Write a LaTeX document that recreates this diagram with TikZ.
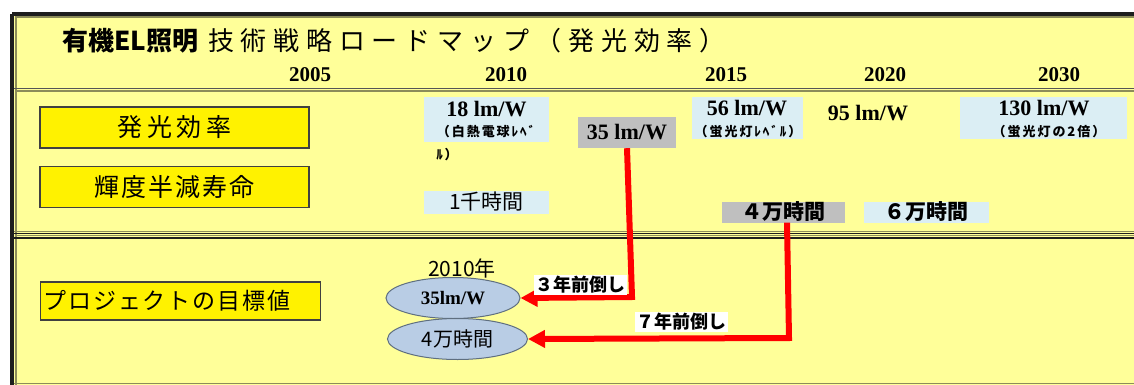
\documentclass[tikz,border=0pt]{standalone}
\usepackage{fontspec}
\setmainfont{Noto Sans CJK JP}
\newfontfamily\jp{Noto Sans CJK JP}
\newfontfamily\jpA[LetterSpace=26]{Noto Sans CJK JP}
\newfontfamily\jpB[LetterSpace=18]{Noto Sans CJK JP}
\newfontfamily\jpC[LetterSpace=8]{Noto Sans CJK JP}
\newfontfamily\jpS[LetterSpace=15]{Noto Sans CJK JP}
\newfontfamily\ser{Liberation Serif}
\usetikzlibrary{arrows.meta,shapes.geometric}
\definecolor{panefill}{HTML}{FFFF99}
\definecolor{olive}{HTML}{8C8C5A}
\definecolor{darkline}{HTML}{1E1E1E}
\definecolor{lblue}{HTML}{DBEEF4}
\definecolor{gbox}{HTML}{BFBFBF}
\definecolor{ellfill}{HTML}{B9CDE5}
\definecolor{ellline}{HTML}{5F6F80}
\tikzset{
  yearlbl/.style={font=\ser\bfseries\fontsize{21}{24}\selectfont, inner sep=0},
  catbox/.style={draw=darkline!85, line width=1.2pt, fill=yellow, minimum width=269pt, minimum height=41pt, inner sep=0},
  graybox/.style={fill=gbox, inner sep=0},
  vallbl/.style={font=\ser\bfseries\fontsize{22}{24}\selectfont, inner sep=0},
  smalllbl/.style={font=\jpS\bfseries\fontsize{13}{15}\selectfont, inner sep=0},
  goal/.style={ellipse, draw=ellline, line width=1pt, fill=ellfill, inner sep=0},
  redarrow/.style={draw=red, line width=6pt, line join=miter, -{Triangle[length=17pt,width=17pt]}},
  shiftlbl/.style={fill=white, inner sep=1.5pt, font=\jp\bfseries\fontsize{18}{20}\selectfont}
}
\begin{document}
\begin{tikzpicture}[x=1pt,y=-1pt]
\useasboundingbox (0,0) rectangle (1134,385);
% panels
\fill[panefill] (13,15) rectangle (1134,385);
% outer frame
\draw[darkline, line width=3.5pt, rounded corners=2pt] (12,14) -- (1140,14);
\draw[darkline, line width=3.5pt] (12,395) -- (12,14);
\draw[olive, line width=1.5pt] (16,385) -- (16,17) -- (1134,17);
% separators
\draw[darkline!75, line width=1.8pt] (14,88.5) -- (1134,88.5);
\draw[olive, line width=1.5pt] (16,91) -- (1134,91);
\draw[olive, line width=1.5pt] (14,231.5) -- (1134,231.5);
\draw[darkline, line width=1.5pt] (14,233.5) -- (1134,233.5);
\draw[olive, line width=1.5pt] (16,235.5) -- (1134,235.5);
\draw[darkline, line width=2pt] (14,237.8) -- (1134,237.8);
\draw[olive, line width=1.5pt] (14,383.5) -- (1134,383.5);
% title
\node[anchor=west, inner sep=0, font=\jp\bfseries\fontsize{26}{30}\selectfont] (t1) at (62,41) {有機EL照明};
\node[anchor=west, inner sep=0, font=\jpA\fontsize{26}{30}\selectfont] (t2) at (208,41) {技術戦略ロードマップ（発光効率）};
% years
\node[yearlbl] (y2005) at (310,75) {2005};
\node[yearlbl] (y2010) at (506,75) {2010};
\node[yearlbl] (y2015) at (726,75) {2015};
\node[yearlbl] (y2020) at (885,75) {2020};
\node[yearlbl] (y2030) at (1059,75) {2030};
% category boxes
\node[catbox, font=\jpB\fontsize{25}{28}\selectfont] (c1) at (174.5,127.5) {発光効率};
\node[catbox, font=\jpC\fontsize{25}{28}\selectfont] (c2) at (174.5,187) {輝度半減寿命};
\node[catbox, minimum width=280pt, minimum height=38pt, anchor=west, font=\jpC\fontsize{23}{26}\selectfont, text width=274pt, align=left] (c3) at (40,301) {プロジェクトの目標値};
% efficiency values
\fill[lblue] (424,97) rectangle (549,142);
\node[vallbl] (v18) at (486.5,109) {18 lm/W};
\node[smalllbl] (v18a) at (486,132) {（白熱電球ﾚﾍﾞ};
\node[smalllbl] (v18b) at (447,155) {ﾙ）};
\node[graybox, minimum width=98pt, minimum height=31pt] (g35) at (627,132.5) {};
\node[vallbl] (v35) at (627,132) {35 lm/W};
\fill[lblue] (692,97) rectangle (803,139);
\node[vallbl] (v56) at (747,108) {56 lm/W};
\node[smalllbl] (v56a) at (748,132) {（蛍光灯ﾚﾍﾞﾙ）};
\node[vallbl] (v95) at (868,113) {95 lm/W};
\fill[lblue] (960,97) rectangle (1127,139);
\node[vallbl] (v130) at (1044,108) {130 lm/W};
\node[smalllbl] (v130a) at (1049,132) {（蛍光灯の2倍）};
% lifetime values
\node[fill=lblue, minimum width=125pt, minimum height=23pt, inner sep=0, font=\jp\fontsize{21}{24}\selectfont] (h1) at (486.5,202) {1千時間};
\node[graybox, minimum width=123pt, minimum height=21pt, font=\jp\bfseries\fontsize{21}{24}\selectfont] (h4) at (783.5,212) {４万時間};
\node[fill=lblue, minimum width=125pt, minimum height=21pt, inner sep=0, font=\jp\bfseries\fontsize{21}{24}\selectfont] (h6) at (926.5,212) {６万時間};
% goals
\node[inner sep=0, font=\jp\fontsize{21}{24}\selectfont] (yr) at (462,268) {2010年};
\node[goal, minimum width=134pt, minimum height=41pt, font=\ser\bfseries\fontsize{19}{21}\selectfont] (e1) at (453,298) {35lm/W};
\node[goal, minimum width=140pt, minimum height=41pt, font=\jp\fontsize{20}{22}\selectfont] (e2) at (457.5,339) {4万時間};
% arrows
\coordinate (k1) at (632,297);
\coordinate (k2) at (789,338);
\draw[redarrow] (g35.south) -- (k1) -- (e1.east);
\draw[redarrow] (h4.south -| 787,0) -- (k2) -- (e2.east);
\node[shiftlbl] (s3) at (580,285) {３年前倒し};
\node[shiftlbl] (s7) at (681,322) {７年前倒し};
\end{tikzpicture}
\end{document}
